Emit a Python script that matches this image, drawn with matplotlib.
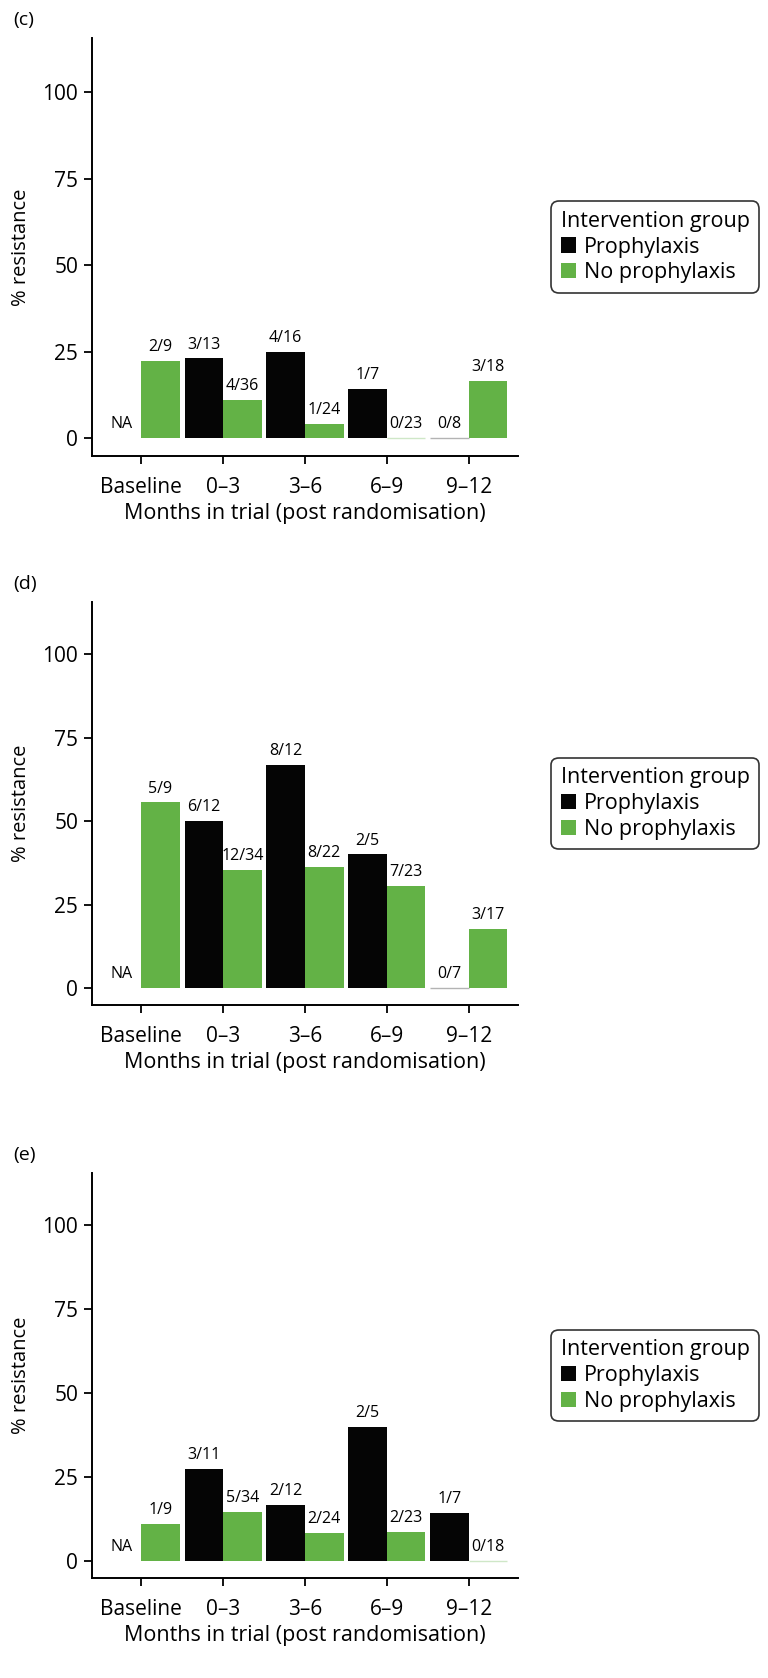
import numpy as np
import matplotlib.pyplot as plt
from matplotlib.patches import Patch

plt.rcParams['font.family'] = ['Open Sans', 'DejaVu Sans']

months = ['Baseline', '0–3', '3–6', '6–9', '9–12']
groups = ['Prophylaxis', 'No prophylaxis']
colours = ['#050505', '#63b246']

# resistant / tested counts per period (None = not available)
c_proph_res = [None, 3, 4, 1, 0]
c_proph_tot = [None, 13, 16, 7, 8]
c_noproph_res = [2, 4, 1, 0, 3]
c_noproph_tot = [9, 36, 24, 23, 18]

d_proph_res = [None, 6, 8, 2, 0]
d_proph_tot = [None, 12, 12, 5, 7]
d_noproph_res = [5, 12, 8, 7, 3]
d_noproph_tot = [9, 34, 22, 23, 17]

e_proph_res = [None, 3, 2, 2, 1]
e_proph_tot = [None, 11, 12, 5, 7]
e_noproph_res = [1, 5, 2, 2, 0]
e_noproph_tot = [9, 34, 24, 23, 18]

panels = [
    ('(c)', (c_proph_res, c_proph_tot), (c_noproph_res, c_noproph_tot)),
    ('(d)', (d_proph_res, d_proph_tot), (d_noproph_res, d_noproph_tot)),
    ('(e)', (e_proph_res, e_proph_tot), (e_noproph_res, e_noproph_tot)),
]

W, H = 768, 1678
fig = plt.figure(figsize=(W / 100, H / 100), dpi=100)

# axes extents in pixels: (top, bottom)
boxes = [(38, 456), (602, 1005), (1173, 1578)]
left_px, right_px = 92, 518
bar_w = 0.47

for (tag, proph, noproph), (top, bot) in zip(panels, boxes):
    ax = fig.add_axes([left_px / W, 1 - bot / H, (right_px - left_px) / W, (bot - top) / H])
    x = np.arange(len(months))
    for gi, (res, tot) in enumerate([proph, noproph]):
        offs = (gi - 0.5) * bar_w
        for xi, r, t in zip(x, res, tot):
            xc = xi + offs
            if r is None:
                ax.annotate('NA', (xc, 0), xytext=(0, 10), textcoords='offset points',
                            ha='center', va='center', fontsize=11.5)
                continue
            pct = 100 * r / t
            if pct == 0:
                ax.bar(xc, 0, width=bar_w, color=colours[gi], edgecolor=colours[gi],
                       linewidth=1.0, alpha=0.3)
            else:
                ax.bar(xc, pct, width=bar_w, color=colours[gi], linewidth=0)
            ax.annotate(f'{r}/{t}', (xc, pct), xytext=(0, 10), textcoords='offset points',
                        ha='center', va='center', fontsize=11.5)

    ax.set_xlim(-0.6, 4.6)
    ax.set_ylim(-5.1, 115.6)
    ax.set_xticks(x)
    ax.set_xticklabels(months)
    ax.set_yticks([0, 25, 50, 75, 100])
    ax.tick_params(labelsize=15, length=6, width=1.3)
    ax.tick_params(axis='x', pad=9)
    ax.tick_params(axis='y', pad=4)
    for s in ['top', 'right']:
        ax.spines[s].set_visible(False)
    for s in ['left', 'bottom']:
        ax.spines[s].set_linewidth(1.4)
    ax.set_xlabel('Months in trial (post randomisation)', fontsize=15.5, labelpad=4)
    ax.set_ylabel('% resistance', fontsize=14.5, labelpad=8)

    fig.text(13 / W, 1 - (top - 18) / H, tag, fontsize=14, ha='left', va='center')

    handles = [Patch(facecolor=c, edgecolor='none') for c in colours]
    leg = fig.legend(handles, groups, title='Intervention group', loc='center left',
                     bbox_to_anchor=(551 / W, 1 - (top + bot) / 2 / H),
                     fontsize=15.5, title_fontsize=15.5, frameon=True, fancybox=True,
                     edgecolor='black', handlelength=0.7, handleheight=0.7,
                     handletextpad=0.4, borderpad=0.45, labelspacing=0.22,
                     borderaxespad=0)
    frame = leg.get_frame()
    frame.set_linewidth(1.2)
    frame.set_boxstyle('round,pad=0,rounding_size=0.35')
    leg._legend_box.align = 'left'

fig.savefig('out.png', dpi=100)
